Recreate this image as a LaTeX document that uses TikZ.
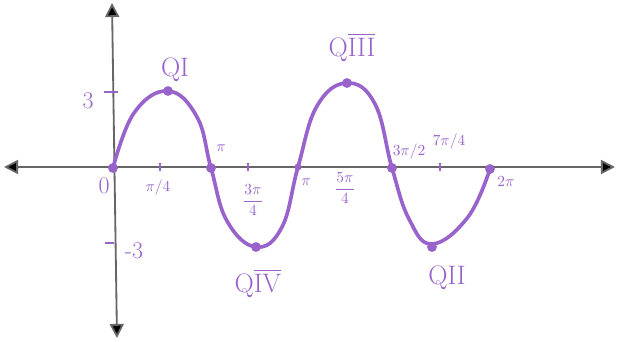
\documentclass[tikz,border=0pt]{standalone}
\usepackage{amsmath,amssymb}
\usepackage{tikz}
\usetikzlibrary{arrows.meta,calc,positioning}
\usepackage{xcolor}
\definecolor{pen}{RGB}{152,100,204}

\begin{document}
\begin{tikzpicture}[x=0.025cm,y=-0.025cm,
  axis/.style={line width=1.3pt,black!60,{Triangle[length=10pt,width=10pt,fill=black]}-{Triangle[length=10pt,width=10pt,fill=black]}},
  wave/.style={pen,line width=2.6pt,line cap=round,line join=round},
  dot/.style={circle,fill=pen,inner sep=0pt,minimum size=7pt},
  quad/.style={pen,inner sep=1pt,font=\fontsize{19}{21}\selectfont},
  val/.style={pen,inner sep=1pt,font=\fontsize{17}{19}\selectfont},
  frac/.style={pen,inner sep=1pt,font=\fontsize{11}{12}\selectfont}]
\useasboundingbox (0,0) rectangle (621,342);
% axes
\coordinate (xl) at (4,167);
\coordinate (xr) at (615,167);
\coordinate (yt) at (112,3);
\coordinate (yb) at (117,338);
\draw[axis] (xl) -- (xr);
\draw[axis] (yb) -- (yt);
% ticks
\draw[pen,line width=1.8pt] (104,92) -- (118,92);
\draw[pen,line width=1.8pt] (105,243) -- (114,243);
\foreach \t in {160,248,440}
  \draw[pen,line width=1.6pt] (\t,163) -- (\t,171);
% the wave
\draw[wave] plot[smooth,tension=0.7] coordinates {
  (113,168) (134,113) (168,91) (197,117) (211,168)
  (227,221) (256,247) (282,227) (298,167)
  (317,106) (347,83) (375,104) (392,168)
  (409,219) (432,244) (468,217) (490,169)};
% marked points
\node[dot] (z0) at (113,168) {};
\node[dot] (m1) at (168,91) {};
\node[dot] (z1) at (211,168) {};
\node[dot] (m2) at (256,247) {};
\node[dot,minimum size=5pt] (z2) at (298,167) {};
\node[dot] (m3) at (347,83) {};
\node[dot] (z3) at (392,168) {};
\node[dot] (m4) at (432,247) {};
\node[dot] (z4) at (490,169) {};
% quadrant labels
\node[quad] (q1) at (175,70) {QI};
\node[quad] (q4) at (258,283) {Q$\overline{\text{IV}}$};
\node[quad] (q3) at (352,47) {Q$\overline{\text{III}}$};
\node[quad] (q2) at (447,278) {QII};
% values
\node[val] (v3) at (88,101) {3};
\node[val] (vm3) at (134,251) {-3};
\node[val] (v0) at (104,186) {0};
\node[frac] (a1) at (158,188) {$\pi/4$};
\node[frac] (a2) at (221,148) {$\pi$};
\node[frac] (a3) at (253,200) {$\dfrac{3\pi}{4}$};
\node[frac] (a4) at (306,182) {$\pi$};
\node[frac] (a5) at (345,188) {$\dfrac{5\pi}{4}$};
\node[frac] (a6) at (409,152) {$3\pi/2$};
\node[frac] (a7) at (449,142) {$7\pi/4$};
\node[frac] (a8) at (506,182) {$2\pi$};
\end{tikzpicture}
\end{document}
